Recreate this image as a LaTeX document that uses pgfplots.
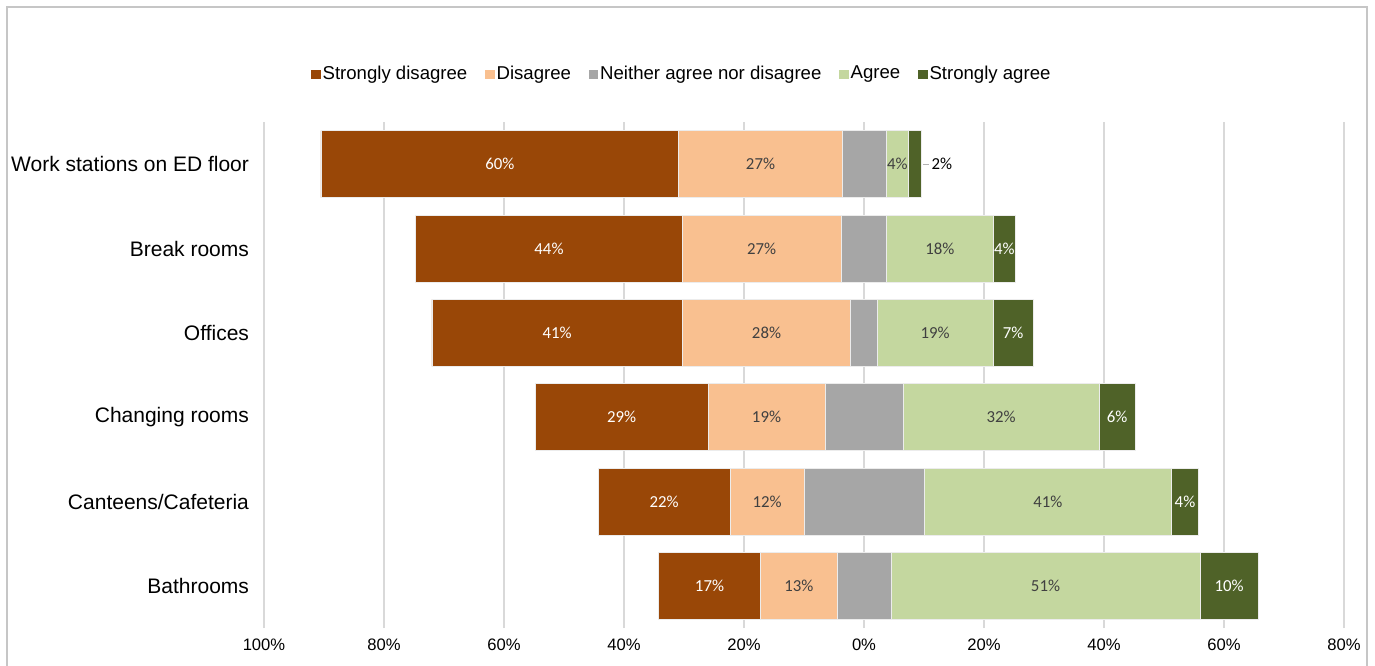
\documentclass[border=0pt]{standalone}
\usepackage{fontspec}
\setmainfont{Liberation Sans}
\newfontfamily\barfont{Carlito}
\usepackage{pgfplots}
\pgfplotsset{compat=1.18}

\definecolor{sdis}{HTML}{994707}
\definecolor{dis}{HTML}{F9C090}
\definecolor{neu}{HTML}{A6A6A6}
\definecolor{agr}{HTML}{C4D79F}
\definecolor{sagr}{HTML}{4F6228}
\definecolor{gridc}{HTML}{D9D9D9}
\definecolor{lbl}{HTML}{404040}

\pgfplotsset{
  seg/.style={fill=#1, draw=white!85!gray, line width=0.4pt},
  lab/.style={nodes near coords, point meta=explicit symbolic,
    every node near coord/.append style={text=#1, font=\barfont\fontsize{8.4}{10}\selectfont}},
}

\begin{document}
\begin{tikzpicture}
\useasboundingbox (-132pt,-18.5pt) rectangle (555.5pt,314pt);
\draw[gray!45,line width=0.6pt] (-128.5pt,-30pt) -- (-128.5pt,310.5pt) -- (551.5pt,310.5pt) -- (551.5pt,-30pt);
% the x axis runs from 0 to 180: position 100 is 0 %, the left end is "100 %" disagreement
\begin{axis}[
  at={(0,0)}, anchor=south west,
  scale only axis,
  width=540pt, height=253pt,
  xbar stacked,
  bar width=33.5pt,
  xmin=0, xmax=180,
  ymin=-0.5, ymax=5.5,
  xtick={0,20,...,180},
  xticklabels={100\%,80\%,60\%,40\%,20\%,0\%,20\%,40\%,60\%,80\%},
  ytick={0,...,5},
  yticklabels={Bathrooms,Canteens/Cafeteria,Changing rooms,Offices,Break rooms,Work stations on ED floor},
  xmajorgrids,
  grid style={gridc,line width=0.6pt},
  axis line style={draw=none},
  major tick length=0pt,
  xticklabel style={font=\fontsize{8.3}{10}\selectfont, yshift=-2pt},
  yticklabel style={font=\fontsize{10.5}{12}\selectfont, xshift=-4pt},
  legend columns=-1,
  legend style={draw=none, at={(0.387,1.095)}, anchor=center,
    font=\fontsize{9.3}{11}\selectfont,
    nodes={inner sep=1pt},
    /tikz/every even column/.append style={column sep=8pt}},
  legend image code/.code={\fill[#1, draw=none] (0.6pt,-2.4pt) rectangle (5.2pt,2.2pt);},
]
% invisible offsets (left edge of each bar, +100)
\addplot[fill=none, draw=none] coordinates {(65.7,0) (55.7,1) (45.2,2) (28.0,3) (25.3,4) (9.5,5)};
\addplot[seg=sdis, lab=white] coordinates {(17.1,0)[17\%] (22.0,1)[22\%] (28.8,2)[29\%] (41.7,3)[41\%] (44.4,4)[44\%] (59.6,5)[60\%]};
\addplot[seg=dis, lab=lbl] coordinates {(12.7,0)[13\%] (12.3,1)[12\%] (19.5,2)[19\%] (28.1,3)[28\%] (26.5,4)[27\%] (27.3,5)[27\%]};
\addplot[seg=neu] coordinates {(9.0,0) (20.0,1) (13.0,2) (4.4,3) (7.6,4) (7.3,5)};
\addplot[seg=agr, lab=lbl] coordinates {(51.5,0)[51\%] (41.3,1)[41\%] (32.7,2)[32\%] (19.3,3)[19\%] (17.7,4)[18\%] (3.7,5)[4\%]};
\addplot[seg=sagr, lab=white] coordinates {(9.7,0)[10\%] (4.4,1)[4\%] (6.0,2)[6\%] (6.7,3)[7\%] (3.8,4)[4\%] (2.2,5)[]};
% near-zero segment carrying the outside label
\addplot[fill=none, draw=none, lab=black, every node near coord/.append style={anchor=west, inner sep=0pt, xshift=4.8pt}]
  coordinates {(0.01,0)[] (0.01,1)[] (0.01,2)[] (0.01,3)[] (0.01,4)[] (0.01,5)[2\%]};
\legend{,Strongly disagree,Disagree,Neither agree nor disagree,Agree,Strongly agree}

\draw[gridc, line width=0.6pt] (axis cs:100,-0.5) -- (axis cs:100,5.5);
\draw[gray!60, line width=0.5pt] (axis cs:109.8,5) -- (axis cs:110.8,5);
\end{axis}
\end{tikzpicture}
\end{document}
